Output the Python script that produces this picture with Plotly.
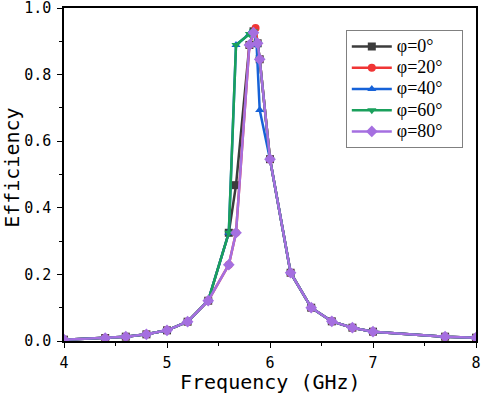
import plotly.graph_objects as go

low_f = [4.0, 4.4, 4.6, 4.8, 5.0, 5.2, 5.4]
low_e = [0.004, 0.009, 0.013, 0.02, 0.032, 0.058, 0.121]
high_f = [6.0, 6.2, 6.4, 6.6, 6.8, 7.0, 7.7, 8.0]
high_e = [0.546, 0.205, 0.1, 0.059, 0.04, 0.028, 0.013, 0.01]

peak_f_0 = [5.6, 5.67, 5.8, 5.84, 5.88, 5.9]
peak_e_0 = [0.325, 0.468, 0.889, 0.93, 0.894, 0.846]

peak_f_20 = [5.6, 5.67, 5.8, 5.86, 5.88, 5.9]
peak_e_20 = [0.229, 0.325, 0.889, 0.94, 0.894, 0.846]

peak_f_40 = [5.6, 5.67, 5.8, 5.84, 5.87, 5.9]
peak_e_40 = [0.325, 0.889, 0.922, 0.93, 0.89, 0.694]

peak_f_60 = [5.6, 5.67, 5.8, 5.84, 5.88, 5.9]
peak_e_60 = [0.325, 0.889, 0.922, 0.93, 0.894, 0.846]

peak_f_80 = [5.6, 5.67, 5.8, 5.84, 5.88, 5.9]
peak_e_80 = [0.229, 0.325, 0.889, 0.926, 0.894, 0.846]

names = ["φ=0°", "φ=20°", "φ=40°", "φ=60°", "φ=80°"]
colors = ["#3c3c3c", "#f03535", "#1662d8", "#1aa05c", "#a56fe0"]
symbols = ["square", "circle", "triangle-up", "triangle-down", "diamond"]
peaks = [(peak_f_0, peak_e_0), (peak_f_20, peak_e_20), (peak_f_40, peak_e_40),
         (peak_f_60, peak_e_60), (peak_f_80, peak_e_80)]

fig = go.Figure()
for name, col, sym, (pf, pe) in zip(names, colors, symbols, peaks):
    fig.add_trace(go.Scatter(
        x=low_f + pf + high_f, y=low_e + pe + high_e,
        mode="lines+markers",
        name="<span style='font-size:18px'>" + name + "\u00a0\u00a0\u00a0</span>",
        line=dict(color=col, width=2.5),
        marker=dict(symbol=sym, size=9 if sym == "diamond" else 8, color=col),
    ))

axis_font = dict(family="DejaVu Sans Mono", size=15, color="black")
title_font = dict(family="DejaVu Sans Mono", size=20, color="black")
fig.update_layout(
    width=484, height=396,
    margin=dict(l=64, r=8, t=8, b=55, autoexpand=False),
    paper_bgcolor="white", plot_bgcolor="white",
    showlegend=True,
    legend=dict(x=0.684, y=0.934, xanchor="left", yanchor="top",
                bordercolor="#808080", borderwidth=1, bgcolor="white",
                font=dict(family="Liberation Serif", size=14, color="black"),
                itemwidth=40, tracegroupgap=0),
    xaxis=dict(range=[4, 8], dtick=1, tick0=4, showgrid=False, zeroline=False,
               automargin=False, ticklabeloverflow="allow", ticklabelstandoff=2,
               ticks="outside", ticklen=5, tickwidth=1.2, tickcolor="black",
               showline=True, linecolor="black", linewidth=1.5, mirror=True,
               minor=dict(dtick=0.5, ticks="outside", ticklen=3, tickcolor="black"),
               tickfont=axis_font),
    yaxis=dict(range=[0, 1], dtick=0.2, tick0=0, tickformat=".1f", showgrid=False, zeroline=False,
               automargin=False, ticklabeloverflow="allow", ticklabelstandoff=3,
               ticks="outside", ticklen=5, tickwidth=1.2, tickcolor="black",
               showline=True, linecolor="black", linewidth=1.5, mirror=True,
               minor=dict(dtick=0.1, ticks="outside", ticklen=3, tickcolor="black"),
               tickfont=axis_font),
    annotations=[
        dict(text="Frequency (GHz)", xref="paper", yref="paper", x=0.5, y=0,
             xanchor="center", yanchor="middle", yshift=-41, showarrow=False, font=title_font),
        dict(text="Efficiency", xref="paper", yref="paper", x=0, y=0.52,
             xanchor="center", yanchor="middle", xshift=-52, textangle=-90,
             showarrow=False, font=title_font),
    ],
)

fig.write_html("out.html", config={"displayModeBar": False},
               post_script="document.body.style.margin='0';")
